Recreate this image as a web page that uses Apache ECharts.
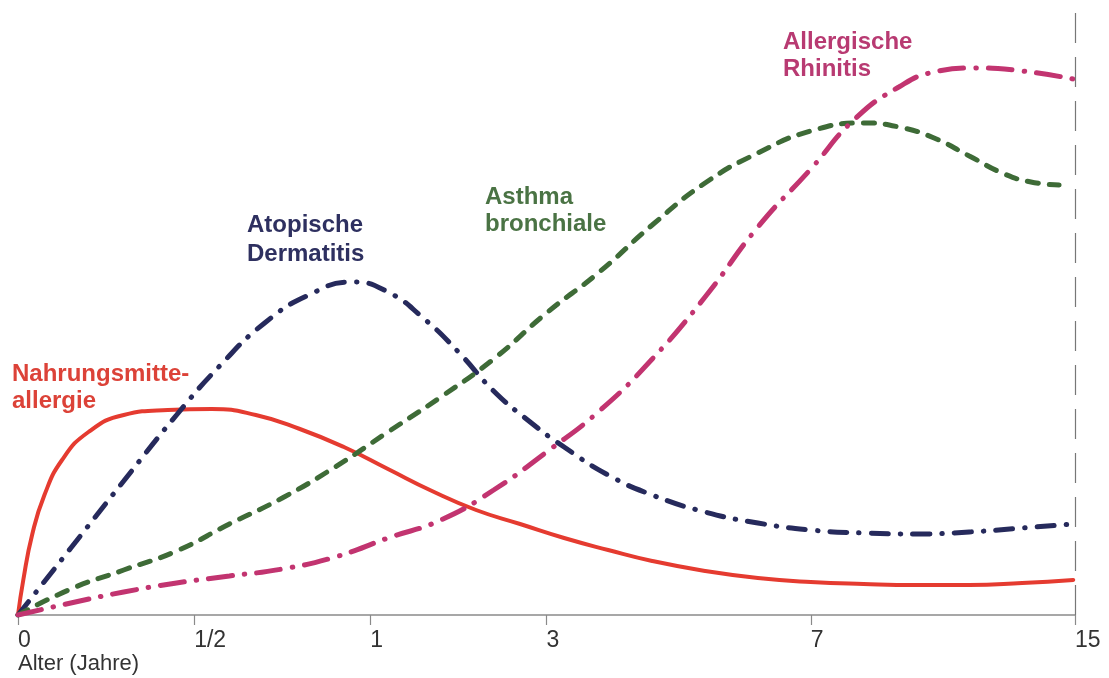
<!DOCTYPE html>
<html>
<head>
<meta charset="utf-8">
<script src="https://cdn.jsdelivr.net/npm/echarts@6/dist/echarts.min.js"></script>
<style>
  html, body { margin: 0; padding: 0; background: #fff; }
  #main { width: 1109px; height: 678px; }
</style>
</head>
<body>
<div id="main"></div>
<script>
// x positions are in axis units: 0, 1/2, 1, 3, 7, 15 Jahre sit at 0, 1, 2, 3, 4.5, 6
var tickValues = [0, 1, 2, 3, 4.5, 6];
var tickLabels = ['0', '1/2', '1', '3', '7', '15'];

var nahrung = [
  [0, 0], [0.03, 35], [0.08, 80], [0.15, 120], [0.25, 155], [0.4, 183], [0.6, 200],
  [0.85, 205], [1.1, 206], [1.35, 200], [1.6, 186], [1.85, 168], [2.1, 146], [2.35, 124],
  [2.6, 105], [2.85, 91], [3.1, 77], [3.35, 65], [3.6, 54], [3.9, 44], [4.2, 37], [4.5, 33],
  [4.8, 31], [5.1, 30], [5.4, 30], [5.7, 32], [5.99, 35]
];
var dermatitis = [
  [0, 0], [0.3, 67], [0.6, 134], [0.9, 200], [1.15, 250], [1.4, 292], [1.65, 320], [1.9, 333],
  [2.1, 323], [2.3, 297], [2.5, 263], [2.7, 224], [2.9, 194], [3.1, 168], [3.35, 140],
  [3.6, 120], [3.9, 103], [4.2, 92], [4.5, 85], [4.8, 82], [5.1, 81], [5.4, 83], [5.7, 87],
  [5.99, 91]
];
var asthma = [
  [0, 0], [0.3, 26], [0.6, 45], [0.9, 64], [1.2, 91], [1.5, 117], [1.8, 148], [2.1, 183],
  [2.4, 218], [2.7, 256], [3.0, 302], [3.3, 343], [3.6, 390], [3.9, 432], [4.2, 462],
  [4.5, 484], [4.8, 492], [5.0, 488], [5.2, 477], [5.4, 459], [5.6, 441], [5.75, 433],
  [5.91, 430]
];
var rhinitis = [
  [0, 0], [0.3, 12], [0.6, 23], [0.9, 32], [1.2, 39], [1.5, 46], [1.8, 58], [2.1, 77],
  [2.4, 95], [2.7, 125], [3.0, 163], [3.3, 204], [3.6, 256], [3.9, 318], [4.2, 388],
  [4.5, 446], [4.75, 496], [5.0, 528], [5.2, 543], [5.42, 547], [5.65, 545], [5.99, 536]
];

var labelFont = 'bold 24px "Liberation Sans", Arial, sans-serif';

var myChart = echarts.init(document.getElementById('main'));

function curve(name, data, color, type, width) {
  return {
    name: name,
    type: 'line',
    data: data,
    smooth: 0.5,
    showSymbol: false,
    silent: true,
    lineStyle: { color: color, width: width, type: type, cap: 'round' }
  };
}

var series = [
  curve('Nahrungsmittelallergie', nahrung, '#e53b30', 'solid', 4),
  curve('Atopische Dermatitis', dermatitis, '#262a5c', [17, 12, 0.5, 12], 5),
  curve('Asthma bronchiale', asthma, '#3e6b37', [11, 11], 5),
  curve('Allergische Rhinitis', rhinitis, '#c23470', [24, 12, 0.5, 12], 5)
];
series[0].markLine = {
  silent: true,
  symbol: ['none', 'none'],
  label: { show: false },
  lineStyle: { color: '#777', width: 1.2, type: [30, 14] },
  data: [{ xAxis: 6 }]
};

myChart.setOption({
  animation: false,
  backgroundColor: '#fff',
  grid: { left: 18, right: 34, top: 12, bottom: 63 },
  xAxis: {
    type: 'value',
    min: 0,
    max: 6,
    splitLine: { show: false },
    axisLine: { lineStyle: { color: '#8a8a8a', width: 1.5 } },
    axisTick: {
      customValues: tickValues,
      length: 10,
      lineStyle: { color: '#8a8a8a', width: 1.2 }
    },
    axisLabel: {
      customValues: tickValues,
      align: 'left',
      margin: 14,
      color: '#333',
      fontSize: 23,
      fontFamily: '"Liberation Sans", Arial, sans-serif',
      formatter: function (v) {
        return tickLabels[tickValues.indexOf(v)];
      }
    }
  },
  yAxis: {
    type: 'value',
    min: 0,
    max: 603,
    show: false
  },
  graphic: [
    { type: 'text', left: 18, top: 653, style: { text: 'Alter (Jahre)', font: '22px "Liberation Sans", Arial, sans-serif', fill: '#333' } },
    { type: 'text', x: 12, y: 361, style: { text: 'Nahrungsmitte-\nallergie', font: labelFont, lineHeight: 27, fill: '#dc4238', verticalAlign: 'top' } },
    { type: 'text', x: 247, y: 211, style: { text: 'Atopische\nDermatitis', font: labelFont, lineHeight: 29, fill: '#2e3060', verticalAlign: 'top' } },
    { type: 'text', x: 485, y: 184, style: { text: 'Asthma\nbronchiale', font: labelFont, lineHeight: 27, fill: '#4a7344', verticalAlign: 'top' } },
    { type: 'text', x: 783, y: 29, style: { text: 'Allergische\nRhinitis', font: labelFont, lineHeight: 27, fill: '#b83a72', verticalAlign: 'top' } }
  ],
  series: series
});
</script>
</body>
</html>
